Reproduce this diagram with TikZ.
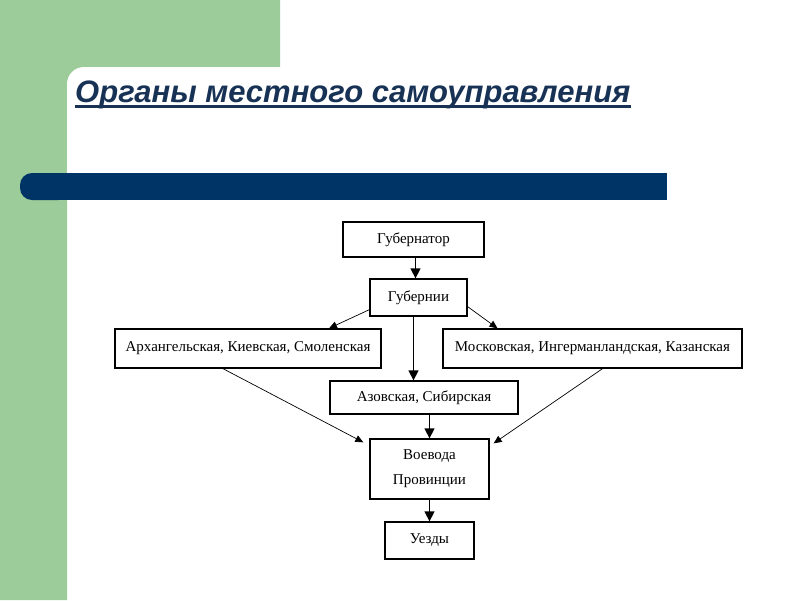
\documentclass[tikz,border=0pt]{standalone}
\usepackage{fontspec}
\setmainfont{Liberation Serif}
\newfontfamily\titlefont{Liberation Sans}
\usetikzlibrary{arrows.meta}
\definecolor{panelgreen}{RGB}{155,204,153}
\definecolor{barnavy}{RGB}{0,51,102}
\definecolor{titlenavy}{RGB}{23,50,85}
\begin{document}
\begin{tikzpicture}[x=1pt,y=-1pt,
  box/.style={draw=black,line width=1.3pt,fill=white,inner sep=0pt,align=center,
    font=\fontsize{15}{25}\selectfont},
  mainarrow/.style={line width=1.4pt,-{Triangle[length=10pt,width=10pt]}},
  thinarrow/.style={line width=0.7pt,-{Triangle[length=8pt,width=7pt]}}]
\useasboundingbox (0,0) rectangle (800,600);
\fill[white] (0,0) rectangle (800,600);
% green panel
\fill[panelgreen] (0,0) -- (280,0) -- (280,67) -- (67,67) -- (67,600) -- (0,600) -- cycle;
\fill[panelgreen] (67,67) rectangle (84,84);
\fill[white] (84,84) circle (17);
\fill[white] (84,67) rectangle (280,100);
\fill[white] (67,84) rectangle (100,200);
% bar
\fill[barnavy, rounded corners=12pt] (20,173) rectangle (70,200);
\fill[barnavy] (40,173) rectangle (667,200);
% title
\node[anchor=base west, inner sep=0pt, text=titlenavy,
  font=\titlefont\bfseries\itshape\fontsize{31}{36}\selectfont] (title) at (75,102)
  {Органы местного самоуправления};
\draw[titlenavy, line width=2.2pt] ([yshift=-4.5pt]title.base west) -- ([yshift=-4.5pt]title.base east);
% boxes
\node[box, minimum width=141pt, minimum height=35pt] (gov) at (413.5,239.5) {Губернатор};
\node[box, minimum width=97pt, minimum height=37pt] (gub) at (418.5,297.5) {Губернии};
\node[box, minimum width=266pt, minimum height=39pt] (arkh) at (248,348.5) {Архангельская, Киевская, Смоленская};
\node[box, minimum width=299pt, minimum height=39pt] (mos) at (592.5,348.5) {Московская, Ингерманландская, Казанская};
\node[box, minimum width=188pt, minimum height=33pt] (azov) at (424,397.5) {Азовская, Сибирская};
\node[box, minimum width=119pt, minimum height=60pt] (voe) at (429.5,469) {Воевода\\Провинции};
\node[box, minimum width=89pt, minimum height=37pt] (uez) at (429.5,540.5) {Уезды};
% connectors
\draw[mainarrow] ([xshift=2pt]gov.south) -- ([xshift=2pt]gov.south |- gub.north);
\draw[mainarrow] ([xshift=-5pt]gub.south) -- ([xshift=-5pt]gub.south |- azov.north);
\draw[mainarrow] (voe.north |- azov.south) -- (voe.north);
\draw[mainarrow] (voe.south) -- (uez.north);
\draw[thinarrow] ([yshift=7pt]gub.south west) -- ([xshift=81pt]arkh.north);
\draw[thinarrow] ([yshift=10pt]gub.south east) -- ([xshift=-95pt]mos.north);
\draw[thinarrow] ([xshift=-25pt]arkh.south) -- ([xshift=-6pt,yshift=-4pt]voe.north west);
\draw[thinarrow] ([xshift=10pt]mos.south) -- ([xshift=4pt,yshift=-5pt]voe.north east);
\end{tikzpicture}
\end{document}
